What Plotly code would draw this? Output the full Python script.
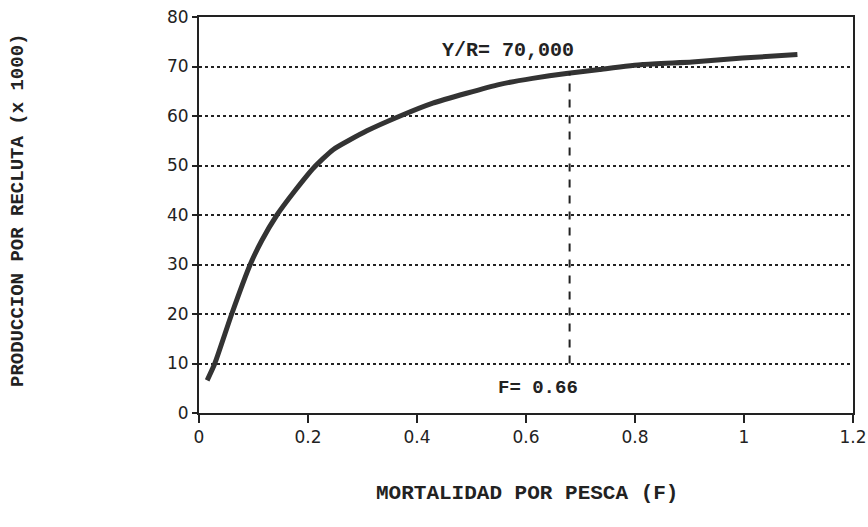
import plotly.graph_objects as go

# Data
F_values = [0.015, 0.029, 0.06, 0.094, 0.115, 0.143, 0.176, 0.211, 0.246, 0.308, 0.369,
            0.429, 0.491, 0.552, 0.612, 0.674, 0.735, 0.814, 0.905, 0.997, 1.098]
YR_values = [6.6, 10.0, 20.0, 30.0, 34.8, 40.0, 44.9, 49.6, 53.2, 57.0, 60.0,
             62.6, 64.6, 66.4, 67.6, 68.6, 69.4, 70.4, 70.9, 71.7, 72.4]
F_opt = [0.68, 0.68]
F_opt_y = [10, 68.8]
x_ticks = [0, 0.2, 0.4, 0.6, 0.8, 1, 1.2]
x_tick_labels = ["0", "0.2", "0.4", "0.6", "0.8", "1", "1.2"]
y_ticks = [0, 10, 20, 30, 40, 50, 60, 70, 80]
y_tick_labels = ["0", "10", "20", "30", "40", "50", "60", "70", "80"]

mono = "Liberation Mono"
W, H = 868, 527
L, R, T, B = 199, 15, 17, 114
PX0, PX1, PY0, PY1 = L, W - R, T, H - B


def px(x):
    return (x - PX0) / (PX1 - PX0)


def py(y):
    return (PY1 - y) / (PY1 - PY0)


fig = go.Figure()
fig.add_trace(go.Scatter(x=F_values, y=YR_values, mode="lines",
                         line=dict(color="#333333", width=5, shape="spline", smoothing=0.5),
                         showlegend=False, hoverinfo="skip"))
fig.add_trace(go.Scatter(x=F_opt, y=F_opt_y, mode="lines",
                         line=dict(color="#222222", width=2, dash="8px,8px"),
                         showlegend=False, hoverinfo="skip"))

fig.add_annotation(x=0.567, y=73.3, text="<b>Y/R= 70,000</b>", showarrow=False,
                   xanchor="center", yanchor="middle",
                   font=dict(family=mono, size=20, color="#222"))
fig.add_annotation(x=0.622, y=5.0, text="<b>F= 0.66</b>", showarrow=False,
                   xanchor="center", yanchor="middle",
                   font=dict(family=mono, size=19, color="#222"))
fig.add_annotation(x=px(527), y=py(493), xref="paper", yref="paper",
                   xanchor="center", yanchor="middle",
                   text="<b>MORTALIDAD POR PESCA (F)</b>", showarrow=False,
                   font=dict(family=mono, size=21, color="#222"))
fig.add_annotation(x=px(18), y=py(210), xref="paper", yref="paper",
                   xanchor="center", yanchor="middle", textangle=-90,
                   text="<b>PRODUCCION POR RECLUTA (x 1000)</b>", showarrow=False,
                   font=dict(family=mono, size=19, color="#222"))

fig.update_layout(
    width=W, height=H,
    margin=dict(l=L, r=R, t=T, b=B, autoexpand=False),
    paper_bgcolor="white", plot_bgcolor="white",
    font=dict(family="DejaVu Sans", size=17, color="#222"),
    xaxis=dict(range=[0, 1.2], tickvals=x_ticks, ticktext=x_tick_labels, automargin=False,
               ticklabeloverflow="allow",
               showgrid=False, zeroline=False, showline=True, linecolor="#222", linewidth=2,
               mirror=True, ticks="outside", ticklen=8, tickwidth=2, tickcolor="#222"),
    yaxis=dict(range=[0, 80], tickvals=y_ticks, ticktext=y_tick_labels, automargin=False,
               ticklabeloverflow="allow",
               showgrid=True, gridcolor="#222", griddash="dot", gridwidth=1.5,
               zeroline=False, showline=True, linecolor="#222", linewidth=2,
               mirror=True, ticks="outside", ticklen=5, tickwidth=1.5, tickcolor="#222"),
)
fig.write_html("out.html", config={"displayModeBar": False},
               post_script="document.body.style.margin='0px';document.body.style.overflow='hidden';")
